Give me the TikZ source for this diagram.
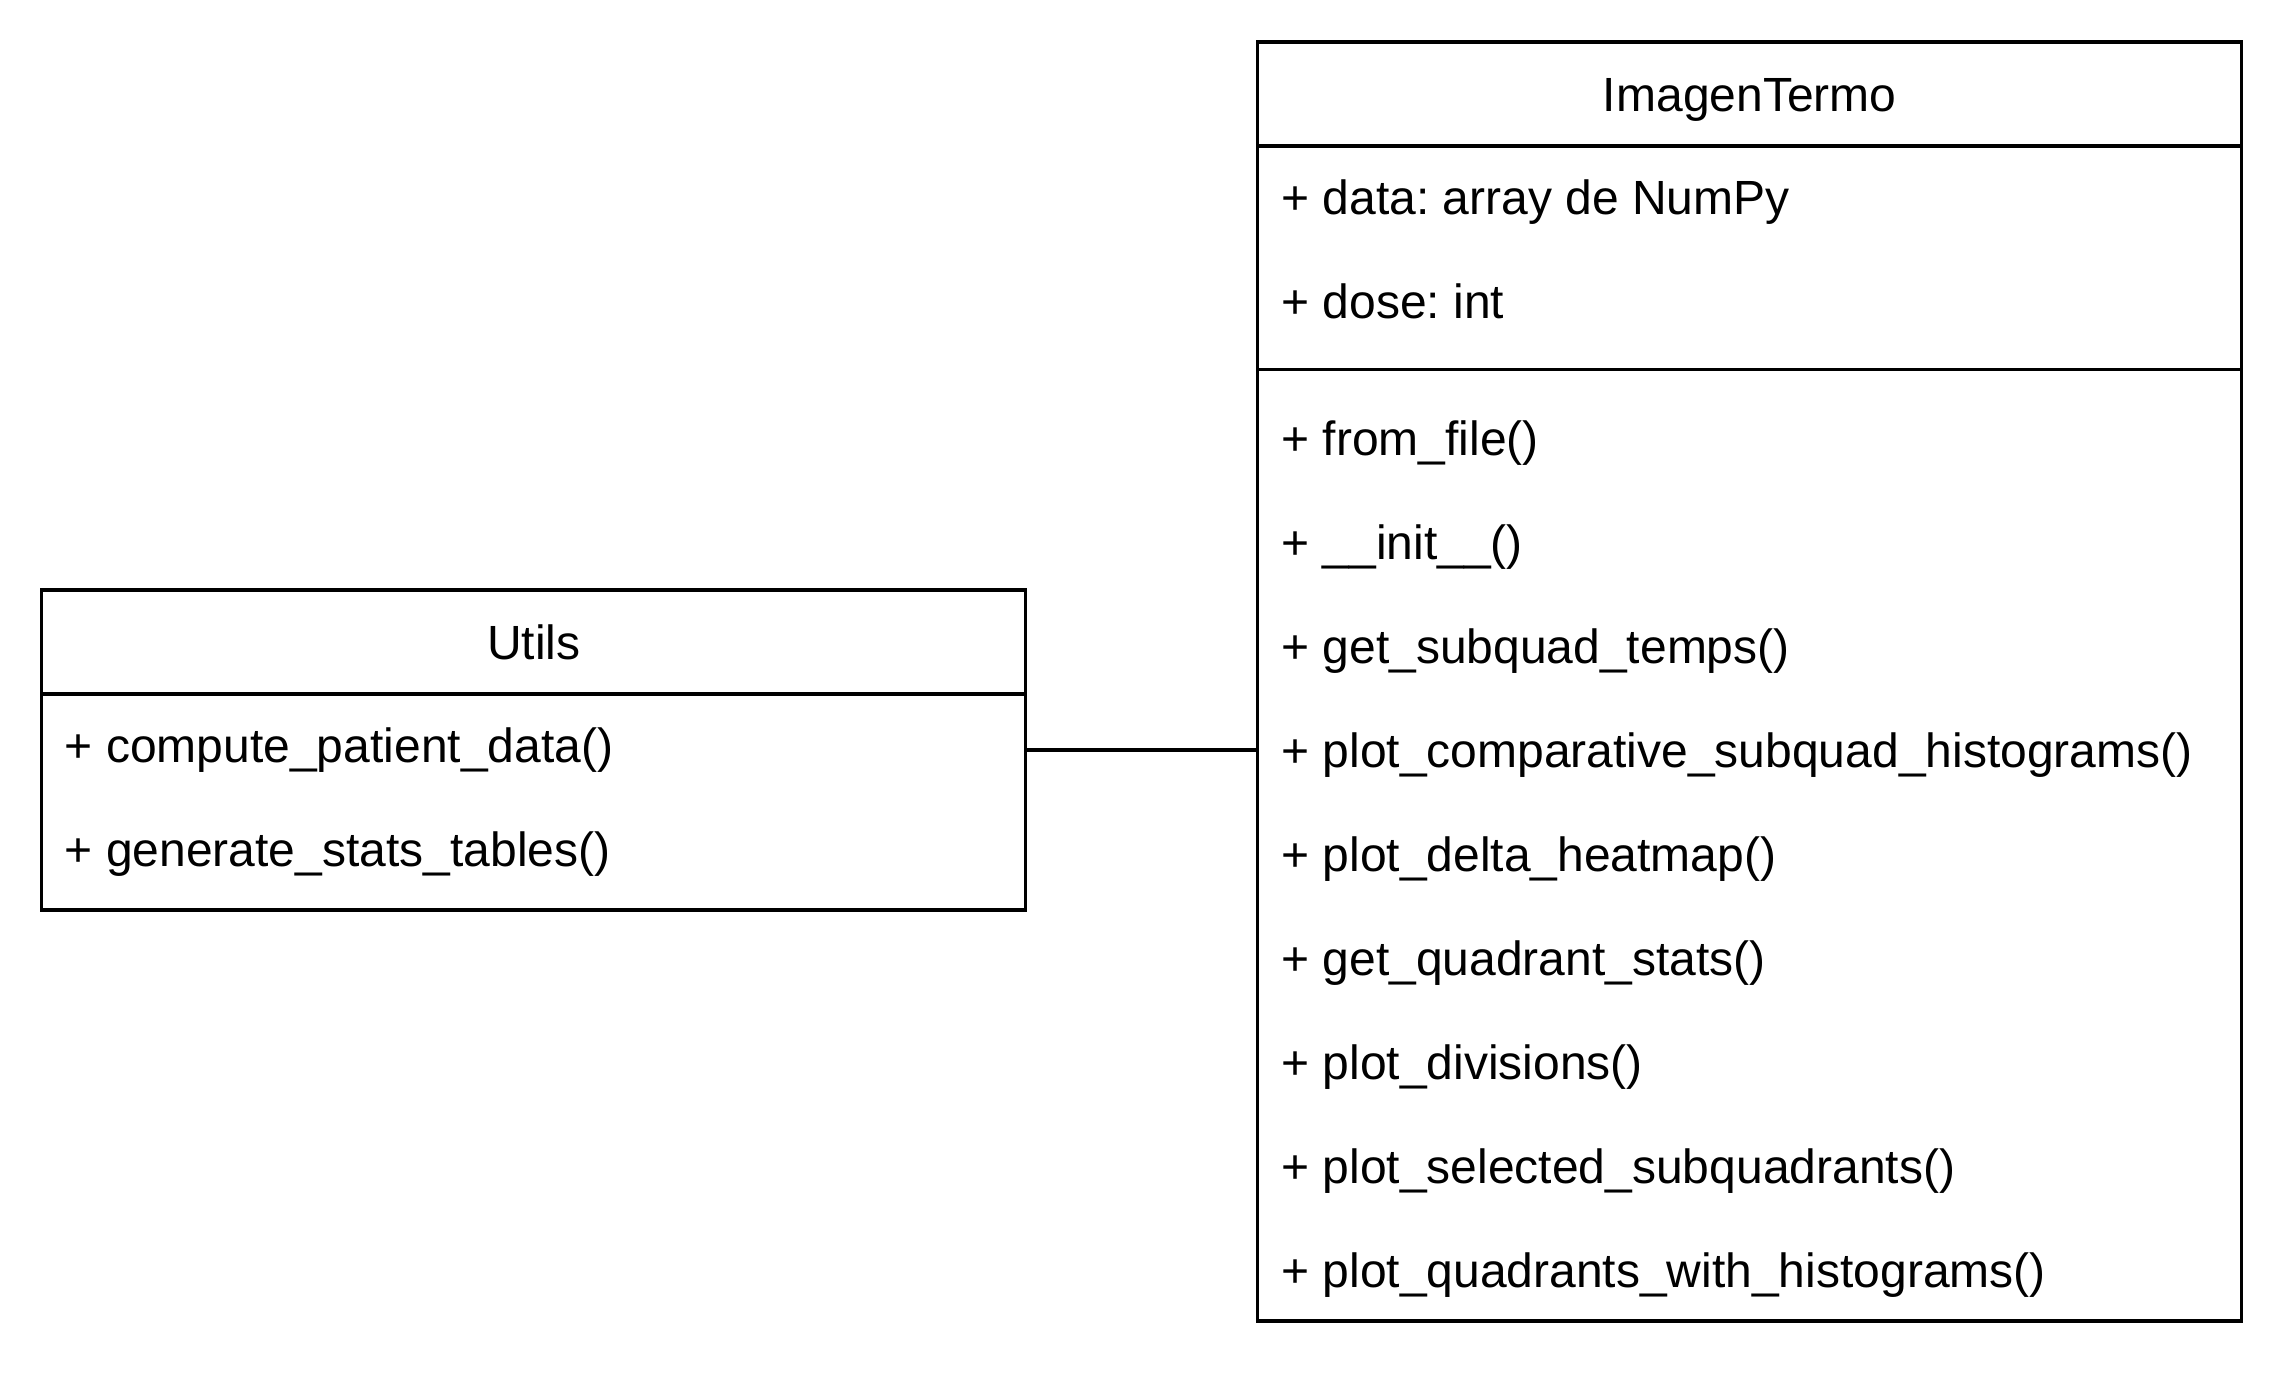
\documentclass[tikz,border=0pt]{standalone}
\usepackage{fontspec}
\setmainfont{Liberation Sans}
\frenchspacing
\begin{document}
\begin{tikzpicture}[x=0.5pt,y=-0.5pt,
  lw/.style={line width=1.75pt},
  classbox/.style={draw=black, lw, inner sep=0pt, outer sep=0pt, fill=none,
    minimum width=492pt, anchor=north west},
  member/.style={anchor=base west, inner sep=0pt, font=\fontsize{24}{28}\selectfont},
  ctitle/.style={anchor=base, inner sep=0pt, font=\fontsize{24}{28}\selectfont},
  sepline/.style={draw=black, lw},
  link/.style={draw=black, lw}]
\useasboundingbox (0,0) rectangle (2284,1376);
% boxes
\node[classbox, minimum height=639.5pt] (termo) at (1257.7,42) {};
\node[classbox, minimum height=160pt] (utils) at (41.7,590) {};
% separators
\coordinate (s1) at (0,146);
\coordinate (s2) at (0,369.5);
\coordinate (s3) at (0,694);
\draw[sepline] (termo.west |- s1) -- (termo.east |- s1);
\draw[sepline] (termo.west |- s2) -- (termo.east |- s2);
\draw[sepline] (utils.west |- s3) -- (utils.east |- s3);
% connector
\draw[link] (utils.east) -- (utils.east -| termo.west);
% ImagenTermo texts
\node[ctitle] (t0) at (1749.7,111) {ImagenTermo};
\node[member] (a1) at (1281,214) {+ data: array de NumPy};
\node[member] (a2) at (1281,318.5) {+ dose: int};
\node[member] (m1) at (1281,455) {+ from\_file()};
\node[member] (m2) at (1281,559) {+ \_\_init\_\_()};
\node[member] (m3) at (1281,663) {+ get\_subquad\_temps()};
\node[member] (m4) at (1281,767) {+ plot\_comparative\_subquad\_histograms()};
\node[member] (m5) at (1281,871) {+ plot\_delta\_heatmap()};
\node[member] (m6) at (1281,975) {+ get\_quadrant\_stats()};
\node[member] (m7) at (1281,1079) {+ plot\_divisions()};
\node[member] (m8) at (1281,1183) {+ plot\_selected\_subquadrants()};
\node[member] (m9) at (1281,1287) {+ plot\_quadrants\_with\_histograms()};
% Utils texts
\node[ctitle] (u0) at (533.7,659) {Utils};
\node[member] (u1) at (64.5,762) {+ compute\_patient\_data()};
\node[member] (u2) at (64.5,866) {+ generate\_stats\_tables()};
\end{tikzpicture}
\end{document}
